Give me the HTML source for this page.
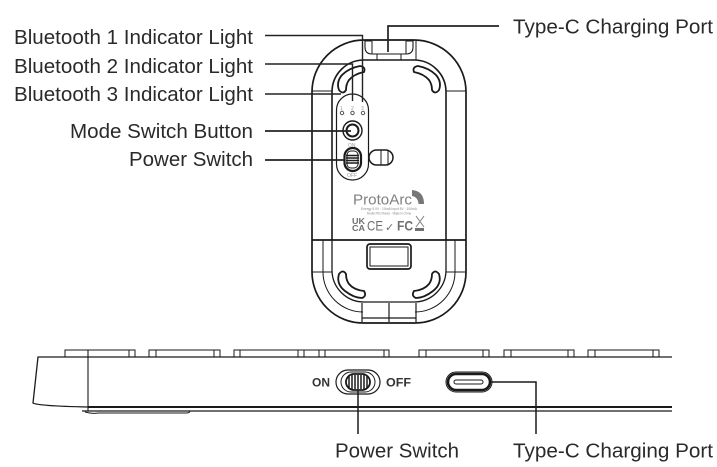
<!DOCTYPE html>
<html><head><meta charset="utf-8"><style>
html,body{margin:0;padding:0;background:#fff}
svg{display:block}
text{font-family:"Liberation Sans",sans-serif;font-size:20px;fill:#2a2a2a}
</style></head><body>
<svg width="717" height="467" viewBox="0 0 717 467" xmlns="http://www.w3.org/2000/svg">
<g fill="none" stroke="#1a1a1a" stroke-width="1.5">
<!-- mouse body -->
<path d="M312 240V92A52 52 0 0 1 364 40H414A52 52 0 0 1 466 92V240" stroke-width="1.7"/>
<path d="M312 240V272A51 51 0 0 0 363 323H415A51 51 0 0 0 466 272V240" stroke-width="1.7"/>
<path d="M332 240V92A32 32 0 0 1 364 60H414A32 32 0 0 1 446 92V240" stroke-width="1.6"/>
<path d="M323 240V272A40 40 0 0 0 363 312M455 240V272A40 40 0 0 1 415 312" stroke-width="1"/>
<path d="M332 240V270A32 32 0 0 0 364 302H414A32 32 0 0 0 446 270V240" stroke-width="1.3"/>
<path d="M312 240H466" stroke-width="1.7"/>
<path d="M312 272H332M446 272H466" stroke-width="1"/>
<path d="M312 91H332M446 91H466" stroke-width="1"/>
<path d="M362 303V322M416 303V322M389 303V322M362 318H416" stroke-width="1.2"/>
<!-- top port -->
<path d="M372 41H365V47Q365 54 372 54H406Q413 54 413 47V41H406" stroke-width="1.1"/>
<path d="M372 41V54M406 41V54M377 54L377 60M401 54L401 60M416 41V60" stroke-width="1"/>
<!-- rubber feet top -->
<path d="M339 90Q336 82 342 75Q349 68 360 66Q366 67 364 72Q354 74 349 80Q346 84 346 90Q343 95 339 90Z" stroke-width="1.8"/>
<path d="M439 90Q442 82 436 75Q429 68 418 66Q412 67 414 72Q424 74 429 80Q432 84 432 90Q435 95 439 90Z" stroke-width="1.8"/>
<!-- rubber feet bottom -->
<path d="M339 274Q336 284 345 291Q354 298 362 298Q367 296 364 291Q354 290 349 284Q346 280 346 274Q343 269 339 274Z" stroke-width="1.8"/>
<path d="M439 274Q442 284 433 291Q424 298 416 298Q411 296 414 291Q424 290 429 284Q432 280 432 274Q435 269 439 274Z" stroke-width="1.8"/>
<!-- bottom rect -->
<rect x="367" y="244" width="44" height="25" rx="3" stroke-width="1.7"/>
<rect x="370" y="247" width="38" height="19" stroke-width="1"/>
<!-- control pill -->
<rect x="336.500" y="94" width="32" height="86" rx="16" stroke-width="1.2"/>
<circle cx="342" cy="113" r="1.7" stroke="#555" stroke-width="1"/>
<circle cx="352.500" cy="113" r="1.7" stroke="#555" stroke-width="1"/>
<circle cx="363" cy="113" r="1.7" stroke="#555" stroke-width="1"/>
<circle cx="352.500" cy="130.500" r="9.500" stroke-width="1.4"/>
<circle cx="352.500" cy="130.500" r="6" stroke-width="2"/>
<rect x="344.500" y="148" width="16.500" height="23" rx="8.250" stroke-width="2.200"/>
<rect x="347" y="151" width="11" height="17" rx="4" stroke-width="1"/>
<path d="M346 155.500H359M346 158H359M346 160.500H359M346 163H359" stroke-width="1.5"/>
<!-- side button -->
<rect x="369" y="150" width="24" height="15" rx="7.500" stroke-width="1.5"/>
<path d="M381 150V165M388 150V165" stroke-width="1"/>
<!-- leaders -->
<g stroke="#222" stroke-width="1.7">
<path d="M265 35.500H362.500V102" stroke-width="1.4"/>
<path d="M265 64H352.500V101" stroke-width="1.4"/>
<path d="M265 94H341" stroke-width="1.5"/>
<path d="M265 131H351"/>
<path d="M265 160H344"/>
<path d="M388 52V26H499"/>
</g>
<!-- keyboard -->
<path d="M672 357H38L33 403Q38 406 88 407" stroke-width="1.3"/>
<path d="M88 350V411" stroke-width="1.1"/>
<path d="M88 407H672" stroke-width="2"/>
<path d="M82 411H672" stroke-width="1.3"/>
<path d="M85 412Q92 414 98 413H186Q190 413 190 411" stroke-width="1"/>
<path d="M65 357V350H135V357M129 350V357M149 357V350H220V357M156 350V357M214 350V357M234 357V350H389V357M240 350V357M298 350V357M304 350V357M319 350V357M325 350V357M384 350V357M419 357V350H489V357M426 350V357M483 350V357M504 357V350H574V357M511 350V357M568 350V357M588 357V350H659V357M595 350V357M653 350V357" stroke-width="1"/>
<!-- switch -->
<rect x="336" y="370" width="44" height="24" rx="12" stroke-width="1.200"/>
<rect x="341" y="372" width="34" height="20" rx="10" stroke-width="1"/>
<rect x="346" y="374" width="24" height="16" rx="8" stroke-width="1.800"/>
<path d="M349 375V389M352 375V389M355 375V389M358 375V389M361 375V389M364 375V389M367 376V388" stroke-width="1.500"/>
<path d="M358 390V434" stroke-width="1.5"/>
<!-- USB-C -->
<rect x="446" y="372" width="46" height="20" rx="10" stroke-width="1"/>
<rect x="448" y="374" width="42" height="16" rx="8" stroke-width="2.600"/>
<rect x="454" y="380" width="29" height="4" rx="2" stroke-width="1"/>
<path d="M490 382H536V434" stroke-width="1.5"/>
</g>
<!-- small control labels -->
<text x="340" y="110" style="font-size:5px;fill:#999">1</text>
<text x="351" y="110" style="font-size:5px;fill:#999">2</text>
<text x="361" y="110" style="font-size:5px;fill:#999">3</text>
<text x="348" y="147" style="font-size:5px;fill:#999">ON</text>
<text x="347" y="177" style="font-size:5px;fill:#999">OFF</text>
<!-- logo -->
<text x="353" y="204.500" textLength="59" lengthAdjust="spacingAndGlyphs" style="font-size:14.500px;fill:#808080">ProtoArc</text>
<path d="M412 190Q424 191 424 204H418.500Q418 197 412 196Z" fill="#777"/>
<text x="361" y="210" textLength="56" lengthAdjust="spacingAndGlyphs" style="font-size:3.500px;fill:#888">Energy 5.0V · 10mA Input 5V · 100mA</text>
<text x="367" y="214.500" textLength="44" lengthAdjust="spacingAndGlyphs" style="font-size:3.500px;fill:#888">Model P02 Mouse · Made in China</text>
<text x="352" y="224" textLength="13" lengthAdjust="spacingAndGlyphs" style="font-size:8.500px;fill:#707070;font-weight:bold">UK</text>
<text x="352" y="231" textLength="13" lengthAdjust="spacingAndGlyphs" style="font-size:8.500px;fill:#707070;font-weight:bold">CA</text>
<text x="367" y="230.500" textLength="16" lengthAdjust="spacingAndGlyphs" style="font-size:14px;fill:#707070">CE</text>
<text x="385" y="231" style="font-size:11px;fill:#707070">✓</text>
<text x="397" y="230.500" textLength="16" lengthAdjust="spacingAndGlyphs" style="font-size:14px;font-weight:bold;fill:#707070">FC</text>
<path d="M416 216L424 227M424 216L416 227" stroke="#808080" stroke-width="1" fill="none"/>
<rect x="415" y="228" width="9" height="3" fill="#707070"/>
<!-- switch labels -->
<text x="312" y="386.500" textLength="18" lengthAdjust="spacingAndGlyphs" style="font-size:12px;font-weight:bold;fill:#333">ON</text>
<text x="386" y="386.500" textLength="25" lengthAdjust="spacingAndGlyphs" style="font-size:12px;font-weight:bold;fill:#333">OFF</text>
<!-- callouts -->
<text x="14" y="44" textLength="239" lengthAdjust="spacingAndGlyphs">Bluetooth 1 Indicator Light</text>
<text x="14" y="73" textLength="239" lengthAdjust="spacingAndGlyphs">Bluetooth 2 Indicator Light</text>
<text x="14" y="101" textLength="239" lengthAdjust="spacingAndGlyphs">Bluetooth 3 Indicator Light</text>
<text x="70" y="138" textLength="183" lengthAdjust="spacingAndGlyphs">Mode Switch Button</text>
<text x="129" y="166" textLength="124" lengthAdjust="spacingAndGlyphs">Power Switch</text>
<text x="513" y="33.500" textLength="200" lengthAdjust="spacingAndGlyphs">Type-C Charging Port</text>
<text x="335" y="457.500" textLength="124" lengthAdjust="spacingAndGlyphs">Power Switch</text>
<text x="513" y="457.500" textLength="200" lengthAdjust="spacingAndGlyphs">Type-C Charging Port</text>
</svg>
</body></html>
